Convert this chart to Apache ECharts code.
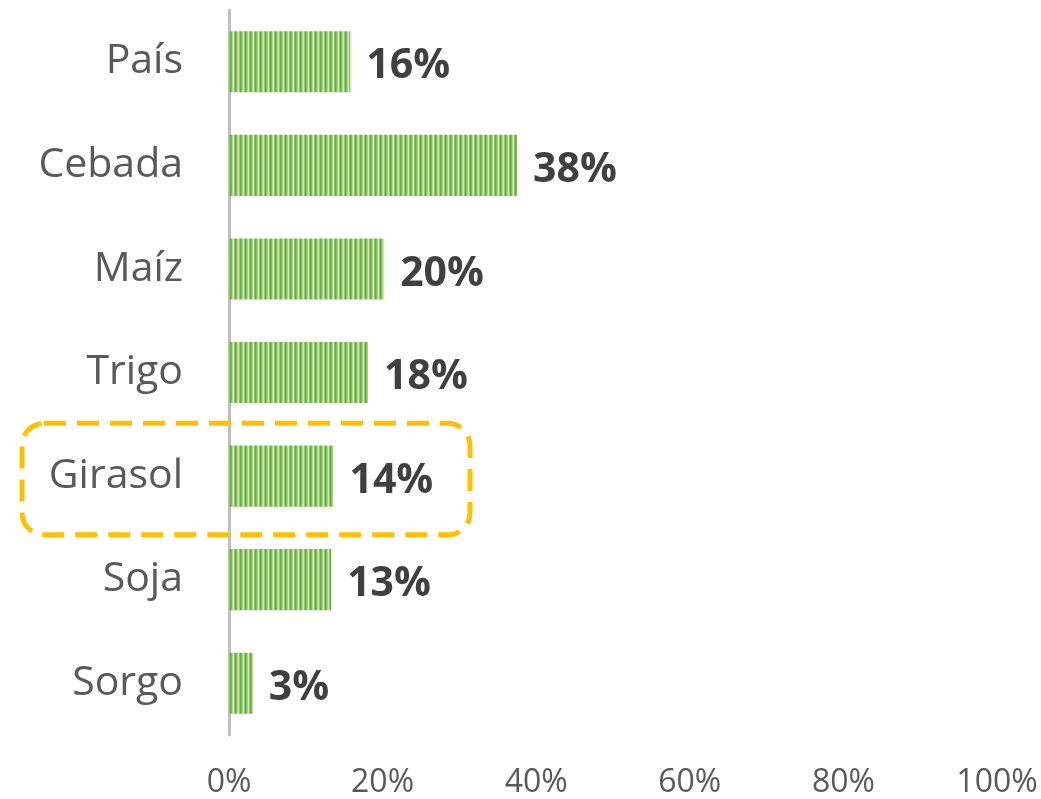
<!DOCTYPE html>
<html>
<head>
<meta charset="utf-8">
<script src="https://cdn.jsdelivr.net/npm/echarts@6/dist/echarts.min.js"></script>
<style>
html,body{margin:0;padding:0;background:#fff;}
#chart{width:1041px;height:799px;}
</style>
</head>
<body>
<div id="chart"></div>
<script>
const categories = ['País', 'Cebada', 'Maíz', 'Trigo', 'Girasol', 'Soja', 'Sorgo'];
const values = [15.8, 37.5, 20.2, 18.1, 13.6, 13.3, 3.1];
const xTicks = [0, 20, 40, 60, 80, 100];
const highlighted = 'Girasol';

function stripePattern() {
  const c = document.createElement('canvas');
  c.width = 5; c.height = 4;
  const g = c.getContext('2d');
  const cols = ['#68a93c', '#7fbb58', '#acd890', '#cdebb8', '#94c971'];
  for (let i = 0; i < 5; i++) { g.fillStyle = cols[i]; g.fillRect(i, 0, 1, 4); }
  return c;
}

const chart = echarts.init(document.getElementById('chart'));
const font = '"Open Sans", "Noto Sans", sans-serif';
chart.setOption({
  animation: false,
  grid: { left: 229, right: 44, top: 10, bottom: 64, containLabel: false, outerBoundsMode: 'none' },
  xAxis: {
    type: 'value', min: xTicks[0], max: xTicks[xTicks.length - 1], interval: xTicks[1] - xTicks[0],
    axisLine: { show: false }, axisTick: { show: false }, splitLine: { show: false },
    axisLabel: { formatter: v => v + '%', color: '#595959', fontSize: 32, fontFamily: font, margin: 32 }
  },
  yAxis: {
    type: 'category', data: categories, inverse: true,
    axisLine: { show: true, lineStyle: { color: '#bfbfbf', width: 3 } },
    axisTick: { show: false },
    axisLabel: { color: '#595959', fontSize: 41, fontFamily: font, margin: 46, padding: [6, 0, 0, 0] }
  },
  series: [{
    type: 'bar', data: values, barWidth: '59%',
    itemStyle: { color: { image: stripePattern(), repeat: 'repeat' } },
    label: {
      show: true, position: 'right', distance: 16, offset: [0, 5],
      formatter: p => Math.round(p.value) + '%',
      color: '#404040', fontSize: 41, fontWeight: 'bold', fontFamily: font
    }
  }]
});

const idx = categories.indexOf(highlighted);
const c0 = chart.convertToPixel({ xAxisIndex: 0, yAxisIndex: 0 }, [0, idx]);
const band = chart.convertToPixel({ yAxisIndex: 0 }, idx + 1) - chart.convertToPixel({ yAxisIndex: 0 }, idx);
chart.setOption({
  graphic: [{
    type: 'rect', z: 100,
    shape: { x: 22, y: c0[1] - band / 2 - 1, width: 448, height: band + 8, r: 22 },
    style: { fill: 'none', stroke: '#FFC000', lineWidth: 5, lineDash: [22, 11] }
  }]
});
</script>
</body>
</html>
